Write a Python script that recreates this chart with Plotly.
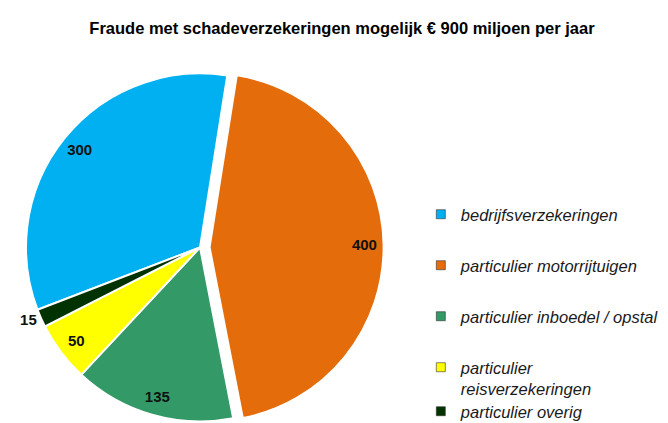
import plotly.graph_objects as go

categories = ["bedrijfsverzekeringen", "particulier motorrijtuigen",
              "particulier inboedel / opstal", "particulier<br>reisverzekeringen",
              "particulier overig"]
values = [300, 400, 135, 50, 15]
colors = ["#00B0F0", "#E46C0A", "#339966", "#FFFF00", "#003300"]
pulls = [0, 0.055, 0, 0, 0]
label_pos = ["inside", "inside", "inside", "inside", "outside"]
title = "Fraude met schadeverzekeringen mogelijk € 900 miljoen per jaar"

FONT = "Liberation Sans, Arial, sans-serif"
dom = dict(x=[0.0126, 0.5623], y=[0.0, 0.868])
ROT = 249

fig = go.Figure()
# the slices
fig.add_trace(go.Pie(
    labels=categories, values=values, sort=False, direction="clockwise",
    rotation=ROT, pull=pulls,
    marker=dict(colors=colors, line=dict(color="white", width=2)),
    textinfo="none", showlegend=False, hoverinfo="label+value",
    domain=dom,
))
# data labels, placed in an outer ring of the same pie
fig.add_trace(go.Pie(
    labels=categories, values=values, sort=False, direction="clockwise",
    rotation=ROT, pull=pulls, hole=0.78,
    marker=dict(colors=["rgba(0,0,0,0)"] * len(values), line=dict(width=0)),
    texttemplate="%{value}", textposition=label_pos,
    insidetextorientation="horizontal",
    textfont=dict(family=FONT, size=15, color="#111111", weight="bold"),
    outsidetextfont=dict(family=FONT, size=15, color="#111111", weight="bold"),
    showlegend=False, hoverinfo="skip",
    domain=dom,
))

legend_top_px = [189, 240, 291, 342, 386]
H = 423
layout_legends = {}
for i, (name, col) in enumerate(zip(categories, colors)):
    key = "legend" if i == 0 else f"legend{i + 1}"
    fig.add_trace(go.Scatter(
        x=[None], y=[None], mode="markers", name=name,
        marker=dict(symbol="square", size=9, color=col,
                    line=dict(color="#333333", width=0.6)),
        legend=key, showlegend=True,
    ))
    layout_legends[key] = dict(
        x=0.618, y=1 - legend_top_px[i] / H, xanchor="left", yanchor="top",
        valign="top", bgcolor="rgba(0,0,0,0)",
        font=dict(family=FONT, size=16.5, color="#1a1a1a", style="italic"),
    )

fig.update_layout(
    width=668, height=423,
    margin=dict(l=0, r=0, t=0, b=0, autoexpand=False),
    paper_bgcolor="white", plot_bgcolor="white",
    title=dict(text="<b>" + title + "</b>", x=0.5, xanchor="center", y=0.953, yanchor="middle",
               font=dict(family=FONT, size=16.5, color="#000000")),
    xaxis=dict(visible=False), yaxis=dict(visible=False),
    **layout_legends,
)

fig.write_html("out.html")
